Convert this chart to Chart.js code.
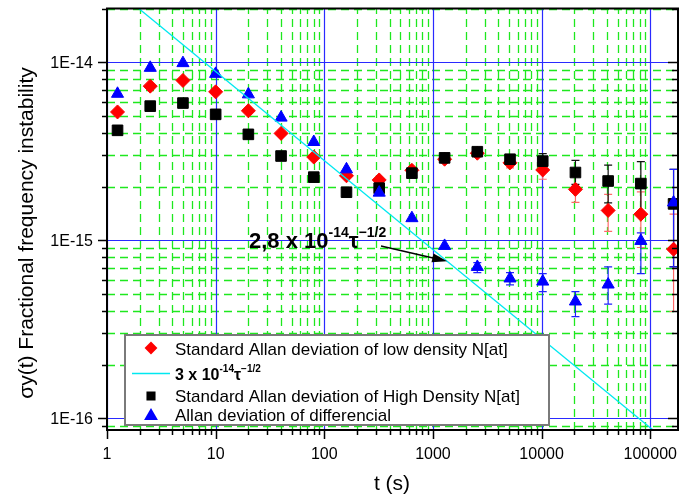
<!DOCTYPE html>
<html>
<head>
<meta charset="utf-8">
<script src="https://cdn.jsdelivr.net/npm/chart.js@4.4.0/dist/chart.umd.min.js"></script>
<style>
  html, body { margin: 0; padding: 0; background: #fff; }
</style>
</head>
<body>
<canvas id="allanChart" width="698" height="501"></canvas>
<script>
// averaging times (s)
const tau = [1.25, 2.5, 5, 10, 20, 40, 80, 160, 320, 640, 1280, 2560, 5120, 10240, 20480, 40960, 81920, 163840];

// Standard Allan deviation of low density N[at]
const lowDensity = [5.25e-15, 7.33e-15, 7.89e-15, 6.81e-15, 5.33e-15, 3.98e-15, 2.93e-15, 2.30e-15, 2.18e-15,
  2.47e-15, 2.85e-15, 3.08e-15, 2.72e-15, 2.48e-15, 1.93e-15, 1.47e-15, 1.40e-15, 8.9e-16];
const lowErrLo = [null, null, null, null, null, null, null, null, null, null, null, null,
  2.55e-15, 2.20e-15, 1.63e-15, 1.12e-15, 9.1e-16, 3.98e-16];
const lowErrHi = [null, null, null, null, null, null, null, null, null, null, null, null,
  2.90e-15, 2.67e-15, 2.28e-15, 1.81e-15, 1.87e-15, 1.40e-15];

// Standard Allan deviation of High Density N[at]
const highDensity = [4.14e-15, 5.66e-15, 5.89e-15, 5.09e-15, 3.93e-15, 2.97e-15, 2.26e-15, 1.86e-15, 1.96e-15,
  2.38e-15, 2.90e-15, 3.14e-15, 2.85e-15, 2.78e-15, 2.40e-15, 2.15e-15, 2.08e-15, 1.60e-15];
const highErrLo = [null, null, null, null, null, null, null, null, null, null, null,
  3.00e-15, 2.70e-15, 2.52e-15, 2.06e-15, 1.62e-15, 1.45e-15, 7.1e-16];
const highErrHi = [null, null, null, null, null, null, null, null, null, null, null,
  3.30e-15, 3.00e-15, 3.06e-15, 2.81e-15, 2.64e-15, 2.76e-15, 2.50e-15];

// Allan deviation of differencial
const differential = [6.64e-15, 9.29e-15, 9.87e-15, 8.59e-15, 6.59e-15, 4.88e-15, 3.56e-15, 2.50e-15, 1.85e-15,
  1.33e-15, 9.29e-16, 7.08e-16, 6.10e-16, 5.86e-16, 4.53e-16, 5.64e-16, 9.91e-16, 1.63e-15];
const diffErrLo = [null, null, null, null, null, null, null, null, null, null, null,
  6.58e-16, 5.61e-16, 5.15e-16, 3.72e-16, 4.38e-16, 6.50e-16, 7.08e-16];
const diffErrHi = [null, null, null, null, null, null, null, null, null, null, null,
  7.48e-16, 6.58e-16, 6.50e-16, 5.15e-16, 7.08e-16, 1.10e-15, 2.50e-15];

// reference slope line, end points
const fitTau = [1, 200000];
const fitValues = [2.8e-14, 6.26e-17];

const xTickValues = [1, 10, 100, 1000, 10000, 100000];
const xTickLabels = ['1', '10', '100', '1000', '10000', '100000'];
const yTickValues = [1e-16, 1e-15, 1e-14];
const yTickLabels = ['1E-16', '1E-15', '1E-14'];

const FONT = '"Liberation Sans", Arial, sans-serif';
const RED = '#ff0000';
const BLACK = '#000000';
const BLUE = '#0000ff';
const CYAN = '#00e8f0';

function toPoints(xs, ys) {
  return xs.map((x, i) => ({ x: x, y: ys[i] }));
}

// ticks / grid positions: 1..9 x 10^n inside the range
function logSteps(min, max) {
  const major = [], minor = [];
  for (let e = Math.floor(Math.log10(min)); e <= Math.ceil(Math.log10(max)); e++) {
    for (let m = 1; m <= 9; m++) {
      const v = m * Math.pow(10, e);
      if (v < min * 0.999 || v > max * 1.001) continue;
      (m === 1 ? major : minor).push(v);
    }
  }
  return { major, minor };
}

// text with super scripts, parts = [[text, font, dy], ...]
function drawRich(ctx, x, y, parts) {
  parts.forEach(p => {
    ctx.font = p[1];
    ctx.fillText(p[0], x, y + p[2]);
    x += ctx.measureText(p[0]).width;
  });
}

function drawErrorBars(ctx, xs, lo, hi, color, xScale, yScale) {
  ctx.strokeStyle = color;
  ctx.lineWidth = 1.2;
  xs.forEach((t, i) => {
    if (lo[i] == null) return;
    const px = xScale.getPixelForValue(t);
    const y1 = yScale.getPixelForValue(lo[i]);
    const y2 = yScale.getPixelForValue(hi[i]);
    ctx.beginPath();
    ctx.moveTo(px, y1); ctx.lineTo(px, y2);
    ctx.moveTo(px - 4, y1); ctx.lineTo(px + 4, y1);
    ctx.moveTo(px - 4, y2); ctx.lineTo(px + 4, y2);
    ctx.stroke();
  });
}

const originFrame = {
  id: 'originFrame',
  beforeDatasetsDraw(chart) {
    const { ctx, chartArea: a, scales: { x, y } } = chart;
    const xs = logSteps(x.min, x.max);
    const ys = logSteps(y.min, y.max);
    ctx.save();
    ctx.beginPath();
    ctx.rect(a.left, a.top, a.right - a.left, a.bottom - a.top);
    ctx.clip();

    // minor grid, green dashed
    ctx.strokeStyle = '#1ee81e';
    ctx.lineWidth = 1.3;
    ctx.setLineDash([8, 5]);
    xs.minor.forEach(v => {
      const px = Math.round(x.getPixelForValue(v)) + 0.5;
      ctx.beginPath(); ctx.moveTo(px, a.bottom); ctx.lineTo(px, a.top); ctx.stroke();
    });
    ys.minor.forEach(v => {
      const py = Math.round(y.getPixelForValue(v)) + 0.5;
      ctx.beginPath(); ctx.moveTo(a.left, py); ctx.lineTo(a.right, py); ctx.stroke();
    });

    // major grid, blue
    ctx.setLineDash([]);
    ctx.strokeStyle = '#2a2aff';
    ctx.lineWidth = 1.2;
    xs.major.forEach(v => {
      const px = Math.round(x.getPixelForValue(v)) + 0.5;
      ctx.beginPath(); ctx.moveTo(px, a.bottom); ctx.lineTo(px, a.top); ctx.stroke();
    });
    ys.major.forEach(v => {
      const py = Math.round(y.getPixelForValue(v)) + 0.5;
      ctx.beginPath(); ctx.moveTo(a.left, py); ctx.lineTo(a.right, py); ctx.stroke();
    });

    drawErrorBars(ctx, tau, lowErrLo, lowErrHi, '#ff6a6a', x, y);
    drawErrorBars(ctx, tau, highErrLo, highErrHi, '#111111', x, y);
    drawErrorBars(ctx, tau, diffErrLo, diffErrHi, '#2020ff', x, y);
    ctx.restore();
  },

  afterDatasetsDraw(chart) {
    const { ctx, chartArea: a, scales: { x, y } } = chart;
    const xs = logSteps(x.min, x.max);
    const ys = logSteps(y.min, y.max);
    ctx.save();

    // frame
    ctx.strokeStyle = '#000';
    ctx.lineWidth = 2;
    ctx.strokeRect(a.left, a.top, a.right - a.left, a.bottom - a.top);

    // ticks
    ctx.lineWidth = 1.5;
    ctx.beginPath();
    ys.minor.concat(ys.major).forEach(v => {
      const py = Math.round(y.getPixelForValue(v)) + 0.5;
      const big = ys.major.includes(v);
      ctx.moveTo(a.left - (big ? 9 : 5), py); ctx.lineTo(a.left, py);
      ctx.moveTo(a.right, py); ctx.lineTo(a.right - (big ? 10 : 6), py);
    });
    xs.minor.concat(xs.major).forEach(v => {
      const px = Math.round(x.getPixelForValue(v)) + 0.5;
      const big = xs.major.includes(v);
      ctx.moveTo(px, a.bottom); ctx.lineTo(px, a.bottom + (big ? 9 : 5));
    });
    ctx.stroke();

    // tick labels
    ctx.fillStyle = '#000';
    ctx.font = '16px ' + FONT;
    ctx.textAlign = 'center';
    ctx.textBaseline = 'alphabetic';
    xTickValues.forEach((v, i) => ctx.fillText(xTickLabels[i], x.getPixelForValue(v), 459));
    ctx.textAlign = 'right';
    yTickValues.forEach((v, i) => ctx.fillText(yTickLabels[i], 93, y.getPixelForValue(v) + 6));

    // axis titles
    ctx.font = '21px ' + FONT;
    ctx.textAlign = 'center';
    ctx.fillText('t (s)', 392, 490);
    ctx.save();
    ctx.translate(33, 233);
    ctx.rotate(-Math.PI / 2);
    ctx.fillText('σy(t) Fractional frequency instability', 0, 0);
    ctx.restore();

    // annotation with arrow to the slope line
    ctx.textAlign = 'left';
    drawRich(ctx, 249, 248, [
      ['2,8 x 10', 'bold 22px ' + FONT, 0],
      ['-14', 'bold 14px ' + FONT, -11],
      ['τ', 'bold 22px ' + FONT, 0],
      ['−1/2', 'bold 14px ' + FONT, -11]
    ]);
    const tipT = 1350;
    const tx = x.getPixelForValue(tipT);
    const ty = y.getPixelForValue(fitValues[0] / Math.sqrt(tipT));
    const sx = 381, sy = 246;
    const ang = Math.atan2(ty - sy, tx - sx);
    ctx.strokeStyle = '#000';
    ctx.lineWidth = 1.3;
    ctx.beginPath(); ctx.moveTo(sx, sy); ctx.lineTo(tx - 10 * Math.cos(ang), ty - 10 * Math.sin(ang)); ctx.stroke();
    ctx.beginPath();
    ctx.moveTo(tx, ty);
    ctx.lineTo(tx - 15 * Math.cos(ang) + 4.5 * Math.sin(ang), ty - 15 * Math.sin(ang) - 4.5 * Math.cos(ang));
    ctx.lineTo(tx - 15 * Math.cos(ang) - 4.5 * Math.sin(ang), ty - 15 * Math.sin(ang) + 4.5 * Math.cos(ang));
    ctx.closePath();
    ctx.fillStyle = '#000';
    ctx.fill();

    // legend box
    ctx.fillStyle = '#fff';
    ctx.fillRect(125, 335, 424, 90);
    ctx.strokeStyle = '#7a7a7a';
    ctx.lineWidth = 2;
    ctx.strokeRect(125, 335, 424, 90);

    const mark = (style, r, color, px, py) => {
      ctx.fillStyle = color;
      ctx.strokeStyle = color;
      Chart.helpers.drawPoint(ctx, { pointStyle: style, radius: r, rotation: 0, borderWidth: 1 }, px, py);
    };
    mark('rectRot', 5, RED, 151, 348);
    mark('rect', 5, BLACK, 151, 396);
    mark('triangle', 6, BLUE, 151, 416);
    ctx.strokeStyle = CYAN;
    ctx.lineWidth = 1.5;
    ctx.beginPath(); ctx.moveTo(132, 373.5); ctx.lineTo(170, 373.5); ctx.stroke();

    ctx.fillStyle = '#000';
    ctx.font = '17px ' + FONT;
    ctx.fillText('Standard Allan deviation of low density N[at]', 175, 355);
    ctx.fillText('Standard Allan deviation of High Density N[at]', 175, 402);
    ctx.fillText('Allan deviation of differencial', 175, 421);
    drawRich(ctx, 175, 380, [
      ['3 x 10', 'bold 16px ' + FONT, 0],
      ['-14', 'bold 10px ' + FONT, -8],
      ['τ', 'bold 16px ' + FONT, 0],
      ['−1/2', 'bold 10px ' + FONT, -8]
    ]);
    ctx.restore();
  }
};

const ctx = document.getElementById('allanChart');
new Chart(ctx, {
  type: 'scatter',
  data: {
    datasets: [
      {
        label: '3 x 10-14 τ-1/2',
        data: toPoints(fitTau, fitValues),
        showLine: true,
        pointRadius: 0,
        borderColor: CYAN,
        borderWidth: 1.3,
        order: 0
      },
      {
        label: 'Allan deviation of differencial',
        data: toPoints(tau, differential),
        pointStyle: 'triangle',
        pointRadius: 7,
        backgroundColor: BLUE,
        borderColor: BLUE,
        borderWidth: 1,
        order: 1
      },
      {
        label: 'Standard Allan deviation of High Density N[at]',
        data: toPoints(tau, highDensity),
        pointStyle: 'rect',
        pointRadius: 7.5,
        backgroundColor: BLACK,
        borderColor: BLACK,
        borderWidth: 1,
        order: 2
      },
      {
        label: 'Standard Allan deviation of low density N[at]',
        data: toPoints(tau, lowDensity),
        pointStyle: 'rectRot',
        pointRadius: 7,
        backgroundColor: RED,
        borderColor: RED,
        borderWidth: 1,
        order: 3
      }
    ]
  },
  options: {
    responsive: false,
    animation: false,
    devicePixelRatio: 1,
    layout: { padding: { left: 107, right: 20, top: 7, bottom: 71 } },
    scales: {
      x: { type: 'logarithmic', min: 1, max: 180000, display: false },
      y: { type: 'logarithmic', min: 8.6e-17, max: 2e-14, display: false }
    },
    plugins: {
      legend: { display: false },
      tooltip: { enabled: false }
    }
  },
  plugins: [originFrame]
});
</script>
</body>
</html>
